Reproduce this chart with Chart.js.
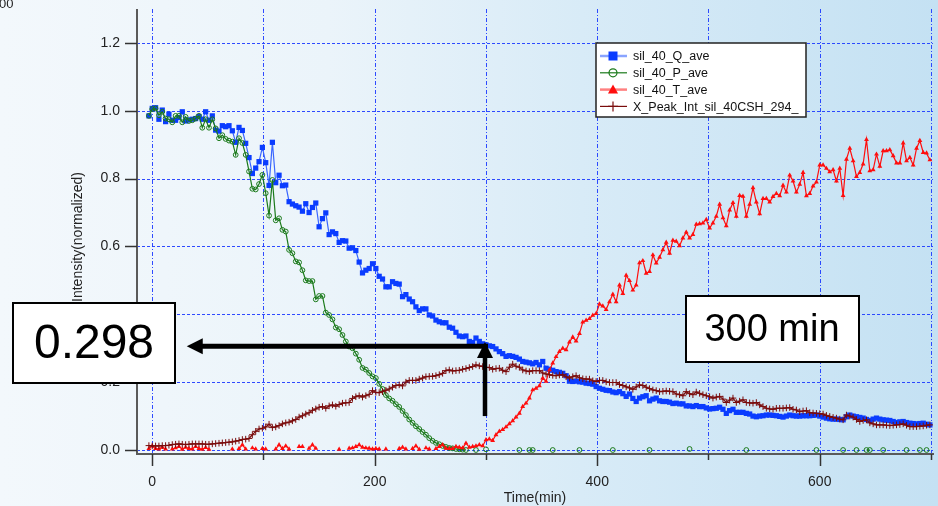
<!DOCTYPE html>
<html>
<head>
<meta charset="utf-8">
<script src="https://cdn.jsdelivr.net/npm/chart.js@4.4.0/dist/chart.umd.min.js"></script>
<style>
html, body { margin: 0; padding: 0; }
body {
  width: 938px; height: 506px; overflow: hidden;
  background: linear-gradient(90deg, #f3f8fc 0%, #ebf4fa 35%, #d8ebf7 62%, #c4e1f3 100%);
}
#wrap { position: relative; width: 938px; height: 506px; }
</style>
</head>
<body>
<div id="wrap"><canvas id="chart" width="938" height="506"></canvas></div>
<script>
// time axis (min)
const times = [
  -3,0,3,6,9,12,15,18,21,24,
  27,30,33,36,39,42,45,48,51,54,
  57,60,63,66,69,72,75,78,81,84,
  87,90,93,96,99,102,105,108,111,114,
  117,120,123,126,129,132,135,138,141,144,
  147,150,153,156,159,162,165,168,171,174,
  177,180,183,186,189,192,195,198,201,204,
  207,210,213,216,219,222,225,228,231,234,
  237,240,243,246,249,252,255,258,261,264,
  267,270,273,276,279,282,285,288,291,294,
  297,300,303,306,309,312,315,318,321,324,
  327,330,333,336,339,342,345,348,351,354,
  357,360,363,366,369,372,375,378,381,384,
  387,390,393,396,399,402,405,408,411,414,
  417,420,423,426,429,432,435,438,441,444,
  447,450,453,456,459,462,465,468,471,474,
  477,480,483,486,489,492,495,498,501,504,
  507,510,513,516,519,522,525,528,531,534,
  537,540,543,546,549,552,555,558,561,564,
  567,570,573,576,579,582,585,588,591,594,
  597,600,603,606,609,612,615,618,621,624,
  627,630,633,636,639,642,645,648,651,654,
  657,660,663,666,669,672,675,678,681,684,
  687,690,693,696,699
];

// sil_40_Q_ave
const qAve = [
  0.985,1.007,1.009,0.975,1.002,0.968,0.99,0.972,0.972,0.98,
  0.997,0.97,0.973,0.975,0.977,0.983,0.975,0.997,0.972,0.985,
  0.943,0.94,0.956,0.953,0.956,0.941,0.907,0.951,0.942,0.904,
  0.862,0.815,0.831,0.85,0.892,0.847,0.78,0.907,0.788,0.81,
  0.779,0.781,0.732,0.725,0.72,0.716,0.704,0.726,0.7,0.715,
  0.728,0.658,0.682,0.699,0.635,0.643,0.638,0.612,0.617,0.616,
  0.595,0.596,0.588,0.554,0.522,0.53,0.535,0.549,0.535,0.512,
  0.504,0.481,0.481,0.496,0.491,0.489,0.452,0.458,0.445,0.437,
  0.422,0.411,0.416,0.416,0.398,0.395,0.383,0.378,0.375,0.375,
  0.362,0.359,0.347,0.336,0.334,0.336,0.32,0.317,0.33,0.32,
  0.313,0.31,0.307,0.305,0.298,0.29,0.284,0.276,0.278,0.276,
  0.273,0.268,0.261,0.259,0.257,0.254,0.258,0.251,0.261,0.241,
  0.238,0.235,0.231,0.229,0.226,0.219,0.203,0.202,0.203,0.201,
  0.2,0.197,0.196,0.194,0.187,0.182,0.179,0.176,0.175,0.171,
  0.169,0.172,0.166,0.158,0.165,0.152,0.143,0.153,0.157,0.16,
  0.145,0.15,0.153,0.145,0.143,0.143,0.141,0.137,0.138,0.136,
  0.136,0.13,0.13,0.128,0.131,0.128,0.128,0.124,0.121,0.122,
  0.123,0.126,0.12,0.108,0.116,0.12,0.111,0.111,0.111,0.108,
  0.106,0.1,0.098,0.1,0.101,0.103,0.103,0.102,0.101,0.099,
  0.097,0.1,0.103,0.101,0.1,0.1,0.101,0.101,0.101,0.102,
  0.103,0.1,0.097,0.094,0.092,0.091,0.091,0.09,0.089,0.098,
  0.103,0.1,0.098,0.096,0.094,0.09,0.087,0.091,0.094,0.091,
  0.089,0.088,0.087,0.084,0.081,0.083,0.084,0.081,0.079,0.078,
  0.077,0.078,0.079,0.076,0.074
];

// sil_40_P_ave (gaps where the value drops below the axis)
const pAve = [
  0.985,1.005,1.007,0.987,0.997,0.977,0.975,0.966,0.985,0.985,
  0.966,0.982,0.97,0.972,0.977,0.985,0.95,0.975,0.95,0.975,
  0.948,0.919,0.928,0.917,0.912,0.909,0.87,0.919,0.905,0.87,
  0.821,0.77,0.768,0.784,0.811,0.757,0.691,0.796,0.677,0.683,
  0.649,0.644,0.59,0.58,0.556,0.553,0.53,0.5,0.498,0.498,
  0.444,0.454,0.454,0.405,0.398,0.385,0.361,0.356,0.339,0.32,
  0.305,0.3,0.284,0.266,0.242,0.237,0.227,0.217,0.212,0.195,
  0.18,0.162,0.152,0.145,0.135,0.127,0.115,0.103,0.09,0.08,
  0.07,0.062,0.053,0.045,0.035,0.027,0.021,0.017,0.012,0.009,
  0.006,0.005,0.003,0.002,0.001,0,null,null,0,null,
  null,0.002,null,null,null,null,null,null,null,null,
  null,0,null,null,0,0,null,null,null,null,
  null,0,null,null,null,null,null,null,null,0,
  null,null,null,null,null,null,null,null,null,0,
  null,null,null,null,null,null,null,null,null,null,
  0,null,null,null,null,null,null,null,null,null,
  null,null,0.003,null,null,null,null,null,null,null,
  null,null,null,null,null,null,null,null,null,0,
  null,null,null,null,null,null,null,null,null,null,
  null,null,null,null,null,null,null,null,null,null,
  0,null,null,null,null,null,null,null,0,null,
  null,null,0,null,null,0,0,null,null,null,
  0,null,null,null,null,null,null,0,null,null,
  null,0,null,0,null
];

// sil_40_T_ave
const tAve = [
  0.004,0.012,0.004,0.003,0.008,0.003,null,0.003,0.006,0.01,
  0.002,0.008,0.004,0.003,0.01,0.004,0.002,0.007,0.002,null,
  null,null,null,null,null,0.003,null,0.004,0.015,0.003,
  null,0.006,0.003,null,0.004,0.003,null,null,0.003,0.015,
  0.004,0.012,0.003,null,null,0.01,0.01,null,0.005,0.015,
  0.005,null,null,null,null,null,null,0.002,null,null,
  0.005,0.006,0.01,0.015,0.008,0.006,0.005,0.003,0.004,0.003,
  null,0.003,null,null,null,0.004,0.008,0.003,null,0.004,
  0.012,0.002,null,0.006,0.003,null,0.004,0.01,0.015,0.005,
  0.004,0.004,0.01,0.008,0.006,0.02,0.008,0.01,0.012,0.015,
  0.012,0.03,0.032,0.028,0.045,0.055,0.06,0.068,0.077,0.086,
  0.097,0.108,0.128,0.138,0.153,0.177,0.182,0.189,0.212,0.202,
  0.236,0.256,0.275,0.29,0.3,0.295,0.318,0.333,0.321,0.343,
  0.377,0.382,0.387,0.397,0.402,0.43,0.424,0.414,0.437,0.459,
  0.437,0.486,0.461,0.515,0.499,0.471,0.486,0.552,0.558,0.521,
  0.526,0.575,0.551,0.568,0.59,0.612,0.58,0.618,0.615,0.602,
  0.625,0.642,0.625,0.635,0.665,0.667,0.669,0.679,0.654,0.669,
  0.689,0.724,0.684,0.661,0.707,0.729,0.689,0.75,0.748,0.689,
  0.724,0.773,0.731,0.696,0.741,0.741,0.731,0.747,0.756,0.749,
  0.78,0.76,0.81,0.793,0.76,0.783,0.818,0.749,0.756,0.778,
  0.79,0.84,0.84,0.83,0.82,0.826,0.793,0.83,0.75,0.857,
  0.889,0.852,0.806,0.818,0.843,0.915,0.823,0.826,0.872,0.836,
  0.882,0.882,0.885,0.867,0.846,0.846,0.905,0.852,0.862,0.84,
  0.889,0.912,0.877,0.875,0.855
];

// X_Peak_Int_sil_40CSH_294_
const xPeak = [
  0.013,0.012,0.012,0.012,0.013,0.013,0.014,0.016,0.017,0.018,
  0.017,0.016,0.017,0.018,0.018,0.018,0.018,0.017,0.017,0.018,
  0.019,0.02,0.021,0.022,0.023,0.024,0.026,0.028,0.031,0.032,
  0.034,0.045,0.055,0.062,0.064,0.068,0.076,0.066,0.068,0.072,
  0.077,0.08,0.082,0.086,0.09,0.097,0.101,0.106,0.11,0.117,
  0.121,0.126,0.128,0.123,0.13,0.133,0.129,0.134,0.138,0.139,
  0.14,0.152,0.157,0.16,0.156,0.16,0.164,0.175,0.17,0.169,
  0.172,0.176,0.18,0.185,0.19,0.192,0.189,0.2,0.205,0.205,
  0.205,0.209,0.212,0.216,0.217,0.217,0.219,0.222,0.226,0.234,
  0.236,0.233,0.234,0.235,0.238,0.24,0.243,0.246,0.251,0.248,
  0.246,0.244,0.243,0.238,0.24,0.241,0.235,0.231,0.244,0.253,
  0.247,0.244,0.236,0.233,0.231,0.234,0.234,0.234,0.227,0.224,
  0.222,0.22,0.219,0.221,0.222,0.216,0.212,0.216,0.219,0.213,
  0.21,0.209,0.209,0.204,0.202,0.205,0.205,0.201,0.199,0.199,
  0.199,0.193,0.19,0.186,0.183,0.179,0.186,0.192,0.19,0.185,
  0.181,0.177,0.175,0.172,0.173,0.174,0.173,0.172,0.165,0.163,
  0.16,0.172,0.166,0.163,0.171,0.167,0.163,0.16,0.157,0.153,
  0.156,0.158,0.15,0.14,0.147,0.153,0.14,0.144,0.148,0.14,
  0.139,0.138,0.14,0.133,0.128,0.123,0.121,0.12,0.123,0.123,
  0.123,0.124,0.125,0.12,0.118,0.113,0.115,0.116,0.11,0.109,
  0.108,0.107,0.106,0.102,0.099,0.096,0.094,0.091,0.089,0.103,
  0.1,0.097,0.09,0.084,0.087,0.089,0.08,0.077,0.074,0.074,
  0.074,0.073,0.072,0.073,0.074,0.075,0.077,0.073,0.069,0.069,
  0.069,0.07,0.071,0.073,0.074
];

const seriesNames = ['sil_40_Q_ave', 'sil_40_P_ave', 'sil_40_T_ave', 'X_Peak_Int_sil_40CSH_294_'];
const yTicks = [0, 0.2, 0.4, 0.6, 0.8, 1.0, 1.2];
const xTicks = [0, 100, 200, 300, 400, 500, 600, 700];
const xLabelTicks = [0, 200, 400, 600];

// annotation
const markTime = 300;
const markLabel = '0.298';
const timeLabel = '300 min';
const arrowLevel = 0.306;   // where the horizontal arrow sits
const arrowTipTime = 31;
const upArrowFrom = 0.1;
const upArrowTo = 0.318;

const FONT = '"Liberation Sans", Arial, sans-serif';
const colors = {
  q: '#0a3cff', qLine: '#3a66ff',
  p: '#1b7a1b',
  t: '#ff0d0d',
  x: '#7a0c0c'
};

const pts = arr => times.map((t, i) => ({ x: t, y: arr[i] }));

function arrowHead(ctx, x, y, dir, len, half) {
  ctx.beginPath();
  if (dir === 'left') {
    ctx.moveTo(x, y); ctx.lineTo(x + len, y - half); ctx.lineTo(x + len, y + half);
  } else {
    ctx.moveTo(x, y); ctx.lineTo(x - half, y + len); ctx.lineTo(x + half, y + len);
  }
  ctx.closePath();
  ctx.fill();
}

function marker(ctx, kind, x, y) {
  ctx.save();
  if (kind === 'q') {
    ctx.fillStyle = colors.q;
    ctx.fillRect(x - 4.5, y - 4.5, 9, 9);
  } else if (kind === 'p') {
    ctx.strokeStyle = colors.p; ctx.lineWidth = 1.2;
    ctx.beginPath(); ctx.arc(x, y, 4, 0, Math.PI * 2); ctx.stroke();
  } else if (kind === 't') {
    ctx.fillStyle = colors.t;
    ctx.beginPath(); ctx.moveTo(x, y - 5); ctx.lineTo(x + 5, y + 4); ctx.lineTo(x - 5, y + 4); ctx.closePath(); ctx.fill();
  } else {
    ctx.strokeStyle = colors.x; ctx.lineWidth = 1.2;
    ctx.beginPath(); ctx.moveTo(x - 5, y); ctx.lineTo(x + 5, y); ctx.moveTo(x, y - 5); ctx.lineTo(x, y + 5); ctx.stroke();
  }
  ctx.restore();
}

const decor = {
  id: 'decor',
  beforeDatasetsDraw(chart) {
    const { ctx, chartArea: a, scales: { x, y } } = chart;
    ctx.save();
    ctx.strokeStyle = 'rgba(25,55,255,0.9)';
    ctx.lineWidth = 1;
    ctx.setLineDash([3, 2]);
    yTicks.forEach(v => {
      const py = Math.round(y.getPixelForValue(v)) + 0.5;
      ctx.beginPath(); ctx.moveTo(a.left, py); ctx.lineTo(a.right, py); ctx.stroke();
    });
    ctx.setLineDash([4, 2, 1, 2]);
    xTicks.forEach(v => {
      const px = Math.round(x.getPixelForValue(v)) + 0.5;
      ctx.beginPath(); ctx.moveTo(px, a.top); ctx.lineTo(px, a.bottom); ctx.stroke();
    });
    ctx.restore();
  },
  afterDatasetsDraw(chart) {
    const { ctx, chartArea: a, scales: { x, y } } = chart;
    ctx.save();
    // axis lines
    ctx.strokeStyle = '#5a5a5a';
    ctx.lineWidth = 2;
    ctx.beginPath();
    ctx.moveTo(a.left, a.top); ctx.lineTo(a.left, a.bottom); ctx.lineTo(a.right + 1, a.bottom);
    ctx.stroke();
    // tick marks
    ctx.strokeStyle = '#333';
    ctx.lineWidth = 1.5;
    yTicks.forEach(v => {
      const py = Math.round(y.getPixelForValue(v)) + 0.5;
      ctx.beginPath(); ctx.moveTo(a.left - 12, py); ctx.lineTo(a.left, py); ctx.stroke();
    });
    xTicks.forEach(v => {
      const px = Math.round(x.getPixelForValue(v)) + 0.5;
      const len = xLabelTicks.includes(v) ? 12 : 6;
      ctx.beginPath(); ctx.moveTo(px, a.bottom); ctx.lineTo(px, a.bottom + len); ctx.stroke();
    });
    ctx.restore();
  },
  afterDraw(chart) {
    const { ctx, chartArea: a, scales: { x, y } } = chart;
    ctx.save();

    // cropped label fragment at the top-left corner
    ctx.fillStyle = '#222';
    ctx.font = '13px ' + FONT;
    ctx.textAlign = 'left';
    ctx.textBaseline = 'alphabetic';
    ctx.fillText('00', -1, 8);

    // axis titles
    ctx.font = '14px ' + FONT;
    ctx.textAlign = 'center';
    ctx.textBaseline = 'middle';
    ctx.fillText('Time(min)', (a.left + a.right) / 2, 498);
    ctx.save();
    ctx.translate(78, 237);
    ctx.rotate(-Math.PI / 2);
    ctx.fillText('Intensity(normalized)', 0, 0);
    ctx.restore();

    // legend
    const lx = 596, ly = 43, lw = 210, lh = 74;
    ctx.fillStyle = '#fff';
    ctx.fillRect(lx, ly, lw, lh);
    ctx.strokeStyle = '#222';
    ctx.lineWidth = 1.5;
    ctx.strokeRect(lx, ly, lw, lh);
    const rows = [
      { k: 'q', line: '#8aa4ff', w: 2.5 },
      { k: 'p', line: colors.p, w: 1.2 },
      { k: 't', line: '#ff8080', w: 2.5 },
      { k: 'x', line: colors.x, w: 1.2 }
    ];
    ctx.font = '12.5px ' + FONT;
    ctx.textAlign = 'left';
    rows.forEach((r, i) => {
      const ry = 56 + i * 16.8;
      ctx.strokeStyle = r.line; ctx.lineWidth = r.w;
      ctx.beginPath(); ctx.moveTo(600, ry); ctx.lineTo(627, ry); ctx.stroke();
      marker(ctx, r.k, 613, ry);
      ctx.fillStyle = '#111';
      ctx.fillText(seriesNames[i], 633, ry + 1);
    });

    // arrows
    ctx.fillStyle = '#000';
    ctx.strokeStyle = '#000';
    const mx = x.getPixelForValue(markTime);
    const hy = y.getPixelForValue(arrowLevel);
    const tipX = x.getPixelForValue(arrowTipTime);
    ctx.lineWidth = 5;
    ctx.beginPath(); ctx.moveTo(mx + 2, hy); ctx.lineTo(tipX + 12, hy); ctx.stroke();
    arrowHead(ctx, tipX, hy, 'left', 16, 8);
    const vx = mx - 1;
    const vTop = y.getPixelForValue(upArrowTo);
    ctx.lineWidth = 4.5;
    ctx.beginPath(); ctx.moveTo(vx, y.getPixelForValue(upArrowFrom)); ctx.lineTo(vx, vTop + 12); ctx.stroke();
    arrowHead(ctx, vx, vTop, 'up', 16, 8);

    // boxes
    ctx.lineWidth = 2;
    ctx.fillStyle = '#fff';
    ctx.fillRect(13, 303, 162, 80);
    ctx.strokeRect(13, 303, 162, 80);
    ctx.fillRect(686, 296, 173, 66);
    ctx.strokeRect(686, 296, 173, 66);
    ctx.fillStyle = '#000';
    ctx.textAlign = 'center';
    ctx.textBaseline = 'middle';
    ctx.font = '48px ' + FONT;
    ctx.fillText(markLabel, 94, 345);
    ctx.font = '38px ' + FONT;
    ctx.fillText(timeLabel, 772, 331);

    ctx.restore();
  }
};

new Chart(document.getElementById('chart'), {
  type: 'line',
  data: {
    datasets: [
      {
        label: seriesNames[0], data: pts(qAve),
        borderColor: colors.qLine, borderWidth: 1.2,
        pointStyle: 'rect', pointRadius: 3.7, pointBorderWidth: 0,
        pointBackgroundColor: colors.q, order: 3
      },
      {
        label: seriesNames[1], data: pts(pAve),
        borderColor: colors.p, borderWidth: 1.2,
        pointStyle: 'circle', pointRadius: 2.4, pointBorderWidth: 1,
        pointBorderColor: colors.p, pointBackgroundColor: 'rgba(0,0,0,0)', order: 2
      },
      {
        label: seriesNames[2], data: pts(tAve),
        borderColor: colors.t, borderWidth: 1.2,
        pointStyle: 'triangle', pointRadius: 2.8, pointBorderWidth: 0,
        pointBackgroundColor: colors.t, order: 1
      },
      {
        label: seriesNames[3], data: pts(xPeak),
        borderColor: colors.x, borderWidth: 1.2,
        pointStyle: 'cross', pointRadius: 3.3, pointBorderWidth: 1,
        pointBorderColor: colors.x, order: 0
      }
    ]
  },
  options: {
    responsive: false,
    animation: false,
    layout: { padding: { left: 0, right: 1, top: 9, bottom: 0 } },
    elements: { line: { tension: 0 } },
    plugins: { legend: { display: false }, tooltip: { enabled: false } },
    scales: {
      x: {
        type: 'linear', min: -13.7, max: 701.8,
        grid: { display: false, drawTicks: false },
        border: { display: false },
        afterBuildTicks: s => { s.ticks = xTicks.map(v => ({ value: v })); },
        afterFit: s => { s.height = 52; s.paddingLeft = 0; s.paddingRight = 0; },
        ticks: {
          padding: 20, color: '#222', autoSkip: false, maxRotation: 0,
          font: { family: FONT, size: 14 },
          callback: v => xLabelTicks.includes(v) ? String(v) : ''
        }
      },
      y: {
        min: -0.0118, max: 1.3,
        grid: { display: false, drawTicks: false },
        border: { display: false },
        afterBuildTicks: s => { s.ticks = yTicks.map(v => ({ value: v })); },
        afterFit: s => { s.width = 137; s.paddingTop = 0; s.paddingBottom = 0; },
        ticks: {
          padding: 17, color: '#222',
          font: { family: FONT, size: 14 },
          callback: v => v.toFixed(1)
        }
      }
    }
  },
  plugins: [decor]
});
</script>
</body>
</html>
